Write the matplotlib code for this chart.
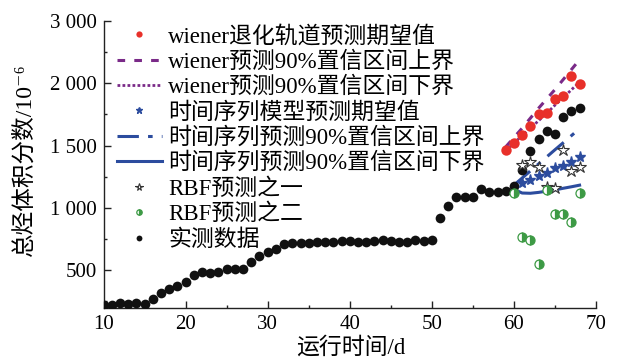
import matplotlib
matplotlib.use("Agg")
import matplotlib.pyplot as plt
from matplotlib.ticker import MultipleLocator, FixedLocator, FixedFormatter

plt.rcParams['font.family'] = ['Liberation Serif', 'Noto Sans CJK SC', 'DejaVu Serif']

# measured total hydrocarbon, one reading per day
days = list(range(10, 69))
measured = [222, 222, 235, 230, 240, 232, 267, 315, 352, 376,
            410, 460, 488, 480, 483, 514, 510, 510, 564, 614,
            644, 668, 710, 716, 716, 721, 726, 726, 729, 737,
            734, 729, 726, 734, 742, 737, 726, 731, 742, 737,
            742, 916, 1015, 1090, 1092, 1092, 1150, 1132, 1125, 1140,
            1178, 1303, 1460, 1550, 1616, 1597, 1726, 1776, 1806]

# wiener degradation forecast
wiener_days = list(range(59, 69))
wiener_mean = [1464, 1522, 1589, 1656, 1750, 1758, 1872, 1899, 2057, 1998]
wiener_upper = [1490, 1565, 1640, 1720, 1800, 1875, 1950, 2030, 2110, 2190]
wiener_lower = [1462, 1520, 1580, 1640, 1700, 1760, 1825, 1885, 1948, 2010]

# time series forecast
ts_days = list(range(61, 69))
ts_mean = [1197, 1223, 1258, 1282, 1317, 1338, 1370, 1410]
band_days = list(range(60, 69))
ts_upper = [1183, 1240, 1297, 1353, 1410, 1467, 1523, 1580, 1637]
ts_lower = [1150, 1120, 1118, 1125, 1135, 1145, 1158, 1170, 1183]

# RBF forecasts
rbf1_days = list(range(61, 69))
rbf1 = [1343, 1370, 1330, 1170, 1157, 1469, 1298, 1330]
rbf2_days = list(range(60, 69))
rbf2 = [1121, 769, 742, 548, 1143, 948, 948, 884, 1117]

yticks = [500, 1000, 1500, 2000, 2500]
ytick_labels = ['500', '1 000', '1 500', '2 000', '3 000']

red = '#e8302a'
purple = '#7a2a88'
blue = '#2c4c9e'
green = '#3d9a45'

fig = plt.figure(figsize=(6.18, 3.59), dpi=100)
ax = fig.add_axes([0.1675, 0.1429, 0.7969, 0.7986])

ax.plot(wiener_days, wiener_mean, 'o', color=red, ms=7.5, mec='none',
        label='wiener退化轨道预测期望值', zorder=4)
ax.plot(wiener_days, wiener_upper, color=purple, lw=2.2, dashes=(2.5, 3),
        label='wiener预测90%置信区间上界')
ax.plot(wiener_days, wiener_lower, color=purple, lw=2.0, dashes=(1, 0.8),
        label='wiener预测90%置信区间下界')
ax.plot(ts_days, ts_mean, '*', color=blue, ms=8, mec=blue,
        label='时间序列模型预测期望值', zorder=4)
ax.plot(band_days, ts_upper, color=blue, lw=2.2, dashes=(7, 3, 1.5, 3),
        label='时间序列预测90%置信区间上界')
ax.plot(band_days, ts_lower, color=blue, lw=2.2,
        label='时间序列预测90%置信区间下界')
ax.plot(rbf1_days, rbf1, '*', ms=9, mfc='white', mec='#333333', mew=0.8,
        label='RBF预测之一', zorder=5)
ax.plot(rbf2_days, rbf2, 'o', ms=6.5, fillstyle='right', mfc=green,
        mfcalt='white', mec=green, mew=0.9, ls='none',
        label='RBF预测之二', zorder=5)
ax.plot(days, measured, 'o', color='#111111', ms=7, mec='none',
        label='实测数据', zorder=3)

ax.set_xlim(10, 70)
ax.set_ylim(200, 2500)
ax.xaxis.set_major_locator(MultipleLocator(10))
ax.xaxis.set_minor_locator(MultipleLocator(5))
ax.yaxis.set_major_locator(FixedLocator(yticks))
ax.yaxis.set_major_formatter(FixedFormatter(ytick_labels))
ax.yaxis.set_minor_locator(MultipleLocator(250))

for side in ['top', 'right']:
    ax.spines[side].set_visible(False)
for side in ['left', 'bottom']:
    ax.spines[side].set_linewidth(1.0)
    ax.spines[side].set_color('#222222')
ax.tick_params(which='both', direction='in', color='#222222', width=1.0,
               labelsize=15)
ax.tick_params(which='major', length=5)
ax.tick_params(which='minor', length=2.5)
ax.tick_params(axis='x', pad=5)
ax.tick_params(axis='y', pad=5)

leg = ax.legend(loc='upper left', bbox_to_anchor=(0.027, 0.985), frameon=False,
                fontsize=16.5, borderpad=0, borderaxespad=0,
                handlelength=1.96, handletextpad=0.29, labelspacing=0.17,
                markerscale=0.6)

fig.text(0.568, 0.03, '运行时间/d', fontsize=16.5, ha='center', va='center')
fig.text(0.04, 0.555, '总烃体积分数/10⁻⁶', fontsize=17, rotation=90,
         ha='center', va='center')

fig.savefig('out.png', dpi=100)
